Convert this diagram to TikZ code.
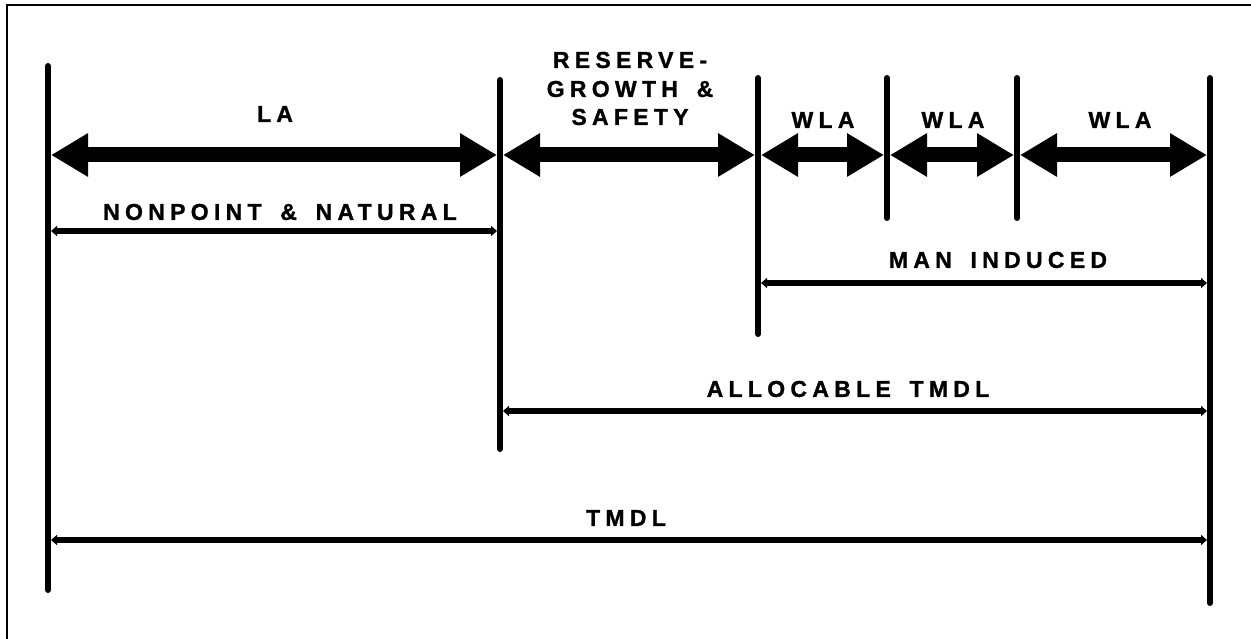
\documentclass[tikz,border=0pt]{standalone}
\usepackage{fontspec}
\setmainfont{Liberation Sans}[LetterSpace=23,WordSpace=1.6,FakeBold=1.2]
\usetikzlibrary{arrows.meta,calc}
\begin{document}
\begin{tikzpicture}[x=1pt,y=-1pt,
  frame/.style={line width=2.6pt},
  vbar/.style={line width=6pt,line cap=round},
  bigarrow/.style={line width=15pt,{Triangle[length=37pt,width=41pt]}-{Triangle[length=37pt,width=41pt]},shorten <=3pt,shorten >=3pt},
  thinarrow/.style={line width=5.5pt,{Triangle[length=6pt,width=10pt]}-{Triangle[length=6pt,width=10pt]},shorten <=3pt,shorten >=3pt},
  lbl/.style={font=\bfseries\fontsize{23}{28}\selectfont,inner sep=0pt,align=center}]
\useasboundingbox (0,0) rectangle (1251,639);
% frame
\coordinate (fA) at (7,639);
\coordinate (fB) at (7,5);
\coordinate (fC) at (1251,5);
\draw[frame] (fA) -- (fB) -- (fC);
% vertical bars
\coordinate (v1t) at (48,66);   \coordinate (v1b) at (48,590);
\coordinate (v2t) at (500,80);  \coordinate (v2b) at (500,449);
\coordinate (v3t) at (758,78);  \coordinate (v3b) at (758,334);
\coordinate (v4t) at (887,78);  \coordinate (v4b) at (887,218);
\coordinate (v5t) at (1017,78); \coordinate (v5b) at (1017,218);
\coordinate (v6t) at (1210,78); \coordinate (v6b) at (1210,603);
\foreach \v in {v1,v2,v3,v4,v5,v6} \draw[vbar] (\v t) -- (\v b);
% rows
\coordinate (rA) at (0,155);
\coordinate (rB) at (0,231);
\coordinate (rC) at (0,283);
\coordinate (rD) at (0,411);
\coordinate (rE) at (0,540);
% big arrows
\draw[bigarrow] (v1t |- rA) -- (v2t |- rA);
\draw[bigarrow] (v2t |- rA) -- (v3t |- rA);
\draw[bigarrow] (v3t |- rA) -- (v4t |- rA);
\draw[bigarrow] (v4t |- rA) -- (v5t |- rA);
\draw[bigarrow] (v5t |- rA) -- (v6t |- rA);
% thin arrows
\draw[thinarrow] (v1t |- rB) -- (v2t |- rB);
\draw[thinarrow] (v3t |- rC) -- (v6t |- rC);
\draw[thinarrow] (v2t |- rD) -- (v6t |- rD);
\draw[thinarrow] (v1t |- rE) -- (v6t |- rE);
% labels
\node[lbl] (la) at (275,114) {LA};
\node[lbl] (res) at (630,60) {RESERVE-};
\node[lbl] (gro) at (630,89) {GROWTH \&};
\node[lbl] (saf) at (630,117) {SAFETY};
\node[lbl] (w1) at (823,120) {WLA};
\node[lbl] (w2) at (953,120) {WLA};
\node[lbl] (w3) at (1120,120) {WLA};
\node[lbl] (np) at (280,212) {NONPOINT \& NATURAL};
\node[lbl] (mi) at (998,260) {MAN INDUCED};
\node[lbl] (al) at (848,389) {ALLOCABLE TMDL};
\node[lbl] (tm) at (626,518) {TMDL};
\end{tikzpicture}
\end{document}
